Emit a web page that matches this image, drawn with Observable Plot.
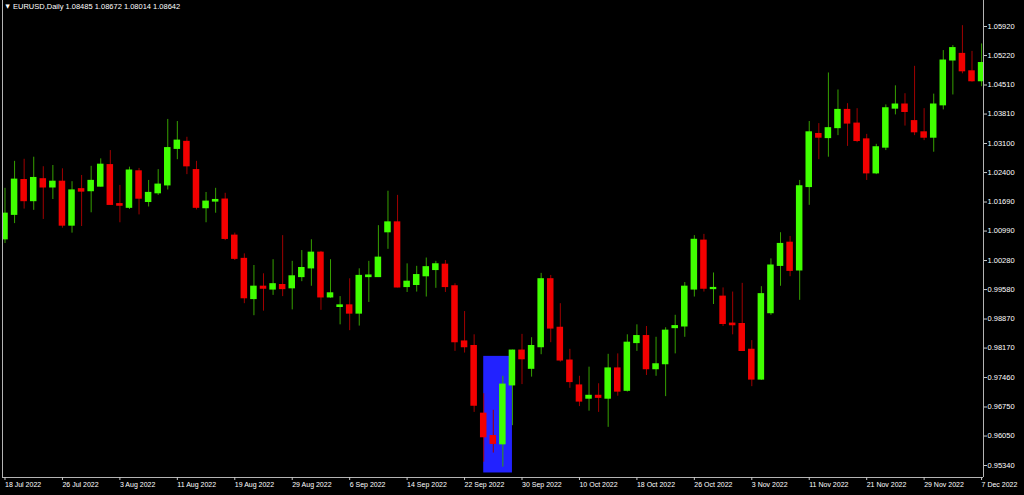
<!DOCTYPE html>
<html><head><meta charset="utf-8">
<script src="https://cdn.jsdelivr.net/npm/d3@7"></script>
<script src="https://cdn.jsdelivr.net/npm/@observablehq/plot@0.6"></script>
<style>html,body{margin:0;padding:0;background:#000;overflow:hidden}</style>
</head><body><div id="chart"></div>
<script>
// ---- data (EURUSD daily candles, 18 Jul 2022 .. 7 Dec 2022) ----
const open = [1.0079,1.0138,1.0222,1.0171,1.0224,1.0204,1.0218,1.0112,1.0200,1.0195,
1.0206,1.0258,1.0164,1.0155,1.0243,1.0169,1.0190,1.0209,1.0297,1.0314,
1.0246,1.0154,1.0170,1.0175,1.0088,1.0032,0.9935,0.9965,0.9958,0.9969,
0.9961,0.9988,1.0009,1.0047,0.9939,0.9916,0.9920,0.9900,0.9988,0.9988,
1.0096,1.0120,0.9964,0.9969,0.9990,1.0005,1.0018,0.9966,0.9833,0.9822,
0.9659,0.9605,0.9585,0.9727,0.9811,0.9767,0.9819,0.9983,0.9866,0.9787,
0.9727,0.9695,0.9702,0.9695,0.9768,0.9714,0.9829,0.9846,0.9766,0.9778,
0.9865,0.9869,0.9958,1.0076,0.9959,0.9941,0.9876,0.9875,0.9813,0.9741,
0.9901,1.0015,1.0071,1.0004,1.0205,1.0333,1.0323,1.0347,1.0391,1.0358,
1.0320,1.0238,1.0300,1.0394,1.0404,1.0364,1.0337,1.0324,1.0402,1.0510,
1.0526,1.0484,1.0460];
const high = [1.0202,1.0267,1.0272,1.0277,1.0254,1.0257,1.0249,1.0218,1.0233,1.0255,
1.0273,1.0293,1.0209,1.0253,1.0250,1.0221,1.0247,1.0368,1.0363,1.0325,
1.0267,1.0192,1.0202,1.0190,1.0094,1.0044,1.0016,0.9996,1.0030,1.0088,
1.0026,1.0052,1.0078,1.0050,1.0030,0.9941,0.9984,1.0008,1.0026,1.0112,
1.0195,1.0185,1.0020,1.0014,1.0034,1.0026,1.0028,0.9972,0.9905,0.9849,
0.9707,0.9667,0.9749,0.9812,0.9850,0.9842,0.9997,0.9992,0.9924,0.9814,
0.9749,0.9771,0.9731,0.9802,0.9803,0.9849,0.9873,0.9869,0.9843,0.9866,
0.9896,0.9975,1.0088,1.0091,0.9998,0.9962,0.9952,0.9973,0.9835,0.9965,
1.0032,1.0095,1.0086,1.0221,1.0363,1.0358,1.0480,1.0439,1.0406,1.0394,
1.0332,1.0308,1.0403,1.0449,1.0430,1.0496,1.0394,1.0429,1.0534,1.0546,
1.0594,1.0532,1.0550];
const low = [1.0069,1.0117,1.0152,1.0149,1.0127,1.0175,1.0106,1.0094,1.0110,1.0143,
1.0205,1.0161,1.0119,1.0151,1.0138,1.0157,1.0185,1.0198,1.0271,1.0235,
1.0150,1.0119,1.0142,1.0076,1.0028,0.9924,0.9895,0.9906,0.9944,0.9941,
0.9909,0.9977,0.9966,0.9908,0.9937,0.9873,0.9859,0.9870,0.9927,0.9987,
1.0055,0.9962,0.9951,0.9952,0.9940,0.9961,0.9951,0.9809,0.9805,0.9662,
0.9542,0.9564,0.9530,0.9630,0.9729,0.9747,0.9801,0.9830,0.9783,0.9720,
0.9676,0.9665,0.9662,0.9626,0.9701,0.9711,0.9809,0.9751,0.9749,0.9700,
0.9803,0.9843,0.9940,0.9952,0.9922,0.9869,0.9849,0.9809,0.9724,0.9739,
0.9896,0.9966,0.9989,0.9932,1.0161,1.0271,1.0277,1.0329,1.0303,1.0312,
1.0221,1.0235,1.0293,1.0379,1.0352,1.0329,1.0317,1.0289,1.0391,1.0427,
1.0478,1.0458,1.0447];
const close = [1.0141,1.0223,1.0171,1.0227,1.0204,1.0218,1.0112,1.0197,1.0194,1.0220,
1.0259,1.0162,1.0160,1.0245,1.0177,1.0191,1.0211,1.0299,1.0317,1.0255,
1.0155,1.0170,1.0174,1.0080,1.0032,0.9937,0.9965,0.9960,0.9971,0.9959,
0.9990,1.0010,1.0047,0.9939,0.9949,0.9920,0.9900,0.9991,0.9992,1.0035,
1.0120,0.9963,0.9977,0.9993,1.0012,1.0019,0.9964,0.9831,0.9819,0.9678,
0.9602,0.9586,0.9729,0.9811,0.9790,0.9822,0.9983,0.9864,0.9787,0.9735,
0.9688,0.9702,0.9697,0.9768,0.9712,0.9830,0.9846,0.9766,0.9778,0.9859,
0.9870,0.9965,1.0078,0.9960,0.9962,0.9875,0.9872,0.9810,0.9741,0.9947,
1.0016,1.0068,1.0003,1.0207,1.0337,1.0324,1.0347,1.0391,1.0358,1.0316,
1.0238,1.0301,1.0395,1.0404,1.0386,1.0337,1.0324,1.0404,1.0510,1.0540,
1.0484,1.0460,1.0504];

const tickIndex = [0,6,12,18,24,30,36,42,48,54,60,66,72,78,84,90,96,102];
const tickLabels = ["18 Jul 2022","26 Jul 2022","3 Aug 2022","11 Aug 2022","19 Aug 2022",
  "29 Aug 2022","6 Sep 2022","14 Sep 2022","22 Sep 2022","30 Sep 2022","10 Oct 2022",
  "18 Oct 2022","26 Oct 2022","3 Nov 2022","11 Nov 2022","21 Nov 2022","29 Nov 2022","7 Dec 2022"];
const priceTicks = [1.05920,1.05220,1.04510,1.03810,1.03100,1.02400,1.01690,1.00990,
  1.00280,0.99580,0.98870,0.98170,0.97460,0.96750,0.96050,0.95340];
const headerSymbol = "EURUSD,Daily";
const headerPrices = ["1.08485","1.08672","1.08014","1.08642"];
// blue rectangle object (bar index span, price span)
const boxBars = [50, 53];
const boxPrices = [0.9516, 0.9797];

// ---- styling / layout ----
const upBody = "#40ff00", downBody = "#f20000";
const upWick = "#36a000", downWick = "#a00000";
const xDomain = [-0.261, 102.2];
const yDomain = [0.950509, 1.065466];
const halfBody = 0.34;

const candles = open.map((o, i) => ({
  i, open: o, high: high[i], low: low[i], close: close[i], up: close[i] >= o
}));

const chart = Plot.plot({
  width: 1024, height: 495,
  marginLeft: 2, marginRight: 41, marginTop: 0, marginBottom: 18,
  style: {background: "#000", color: "#fff", fontFamily: "'Liberation Sans', Arial, sans-serif", fontSize: "7.5px", overflow: "visible"},
  x: {type: "linear", domain: xDomain},
  y: {type: "linear", domain: yDomain},
  color: {type: "identity"},
  marks: [
    Plot.rect([{x1: boxBars[0], x2: boxBars[1], y1: boxPrices[0], y2: boxPrices[1]}],
      {x1: "x1", x2: "x2", y1: "y1", y2: "y2", fill: "#2222ff", clip: true}),
    Plot.ruleX(candles, {x: "i", y1: "low", y2: "high",
      stroke: d => d.up ? upWick : downWick, strokeWidth: 1, clip: true}),
    Plot.rect(candles, {x1: d => d.i - halfBody, x2: d => d.i + halfBody, y1: "open", y2: "close",
      fill: d => d.up ? upBody : downBody, insetTop: -0.5, insetBottom: -0.5, clip: true}),
    Plot.ruleX([xDomain[0]], {stroke: "#b4b4b4"}),
    Plot.ruleX([xDomain[1]], {stroke: "#b4b4b4"}),
    Plot.ruleY([yDomain[0]], {stroke: "#b4b4b4"}),
    Plot.axisY(priceTicks, {anchor: "right", tickSize: 3, tickPadding: 1,
      tickFormat: d => d.toFixed(5), stroke: "#c8c8c8", fill: "#ffffff", fontSize: 7.5}),
    Plot.axisX(tickIndex, {anchor: "bottom", tickSize: 3, tickPadding: 2,
      tickFormat: d => tickLabels[tickIndex.indexOf(d)], textAnchor: "start",
      stroke: "#c8c8c8", fill: "#ffffff", fontSize: 7}),
    Plot.text(["\u25BC"], {frameAnchor: "top-left", dx: 3, dy: 4, lineAnchor: "top",
      fill: "#ffffff", fontSize: 5.5, fontFamily: "DejaVu Sans"}),
    Plot.text([headerSymbol + " " + headerPrices.join(" ")], {frameAnchor: "top-left", dx: 10.5, dy: 3,
      lineAnchor: "top", textAnchor: "start", fill: "#ffffff", fontSize: 7.5})
  ]
});
document.getElementById("chart").appendChild(chart);
</script>
</body></html>
